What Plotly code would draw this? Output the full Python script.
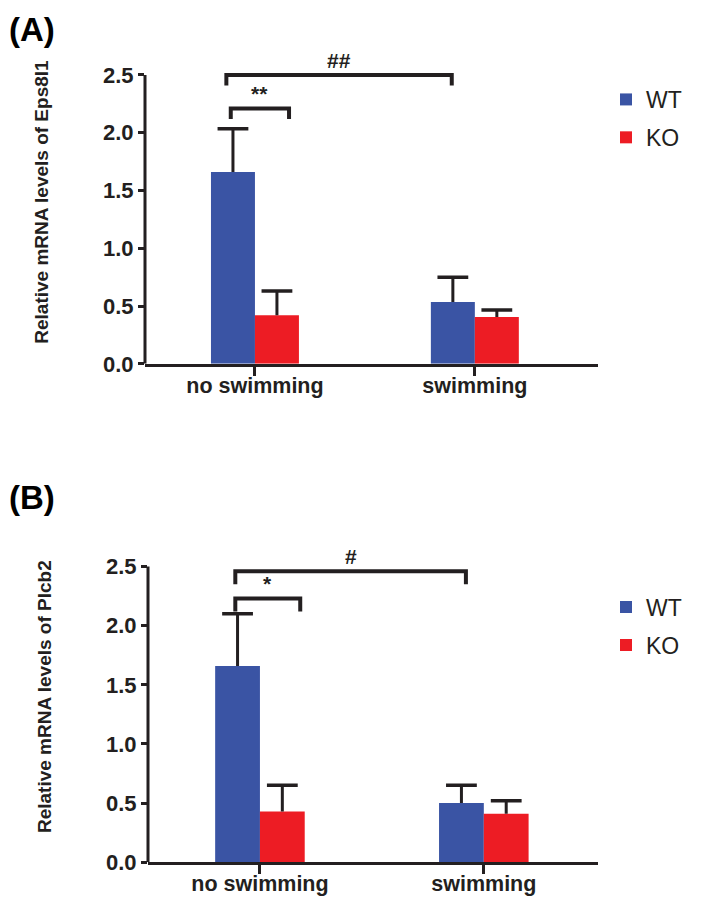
import plotly.graph_objects as go
from plotly.subplots import make_subplots

categories = ["no swimming", "swimming"]
cat_pos = [0, 1]
y_ticks = [0.0, 0.5, 1.0, 1.5, 2.0, 2.5]
y_ticktext = ["0.0", "0.5", "1.0", "1.5", "2.0", "2.5"]

# Panel A: Eps8l1
a_wt = [1.66, 0.535]
a_wt_err = [0.375, 0.215]
a_ko = [0.42, 0.405]
a_ko_err = [0.21, 0.06]

# Panel B: Plcb2
b_wt = [1.66, 0.50]
b_wt_err = [0.44, 0.15]
b_ko = [0.43, 0.41]
b_ko_err = [0.22, 0.11]

# significance brackets: (x_left, x_right, y, label)
a_brackets = [(-0.13, 0.895, 2.5, "##"), (-0.11, 0.155, 2.21, "**")]
b_brackets = [(-0.11, 0.92, 2.46, "#"), (-0.11, 0.18, 2.23, "*")]

BLUE = "#3a54a4"
RED = "#ed1c24"
INK = "#231f20"
FONT = "Liberation Sans, Arial, sans-serif"
BARGAP = 0.6
BAR_W = (1 - BARGAP) / 2  # width of each bar in category units

fig = make_subplots(rows=2, cols=1)

def add_panel(row, wt, wt_err, ko, ko_err, legend):
    series = [("WT", wt, wt_err, BLUE, -BAR_W / 2), ("KO", ko, ko_err, RED, BAR_W / 2)]
    for name, vals, err, col, off in series:
        fig.add_trace(go.Bar(
            x=cat_pos, y=vals, name=name, marker=dict(color=col, line=dict(width=0)),
            error_y=dict(type="data", array=err, arrayminus=[0] * len(err), symmetric=False,
                         thickness=3, width=0, color=INK),
            legend=legend, legendgroup=name + legend,
        ), row=row, col=1)
    # error bar caps (upper only)
    for name, vals, err, col, off in series:
        fig.add_trace(go.Scatter(
            x=[c + off for c in cat_pos], y=[v + e for v, e in zip(vals, err)],
            mode="markers", showlegend=False, hoverinfo="skip",
            marker=dict(symbol="line-ew", size=22, line=dict(color=INK, width=3.5)),
        ), row=row, col=1)

add_panel(1, a_wt, a_wt_err, a_ko, a_ko_err, "legend")
add_panel(2, b_wt, b_wt_err, b_ko, b_ko_err, "legend2")

W, H = 708, 904
def px_x(p):
    return p / W
def px_y(p):
    return 1 - p / H

axis_common = dict(showgrid=False, zeroline=False)
fig.update_xaxes(
    tickvals=cat_pos, ticktext=categories, showline=True, linewidth=3, linecolor=INK,
    ticks="outside", ticklen=9, tickwidth=3, tickcolor=INK, ticklabelstandoff=-9,
    tickfont=dict(family=FONT, size=21.5, color=INK, weight="bold"), **axis_common)
fig.update_yaxes(
    tickvals=y_ticks, ticktext=y_ticktext, showline=False,
    ticks="outside", ticklen=6, tickwidth=3, tickcolor=INK,
    tickfont=dict(family=FONT, size=22, color=INK, weight="bold"),
    title_font=dict(family=FONT, size=19, color=INK, weight="bold"),
    title_standoff=49, **axis_common)

fig.update_layout(
    xaxis=dict(domain=[px_x(137), px_x(590)], range=[-0.5, 1.56]),
    yaxis=dict(domain=[px_y(361), px_y(32.8)], range=[0, 2.8],
               title_text="Relative mRNA levels of Eps8l1"),
    xaxis2=dict(domain=[px_x(140), px_x(590)], range=[-0.5, 1.51]),
    yaxis2=dict(domain=[px_y(866.7), px_y(530.7)], range=[0, 2.8],
                title_text="Relative mRNA levels of Plcb2"),
)

# y axis lines (stop at 2.5)
for yref, xref in [("y", "x domain"), ("y2", "x2 domain")]:
    fig.add_shape(type="line", xref=xref, yref=yref, x0=0, x1=0, y0=0, y1=2.5,
                  line=dict(color=INK, width=3))

def add_brackets(brackets, xref, yref, drop):
    for x0, x1, y, label in brackets:
        fig.add_trace(go.Scatter(
            x=[x0, x0, x1, x1], y=[y - drop, y, y, y - drop], mode="lines",
            line=dict(color=INK, width=4), showlegend=False, hoverinfo="skip",
            xaxis=xref, yaxis=yref))
        fig.add_annotation(x=(x0 + x1) / 2, y=y + 0.01, xref=xref, yref=yref, text=label,
                           showarrow=False, yanchor="bottom",
                           font=dict(family=FONT, size=21, color=INK, weight="bold"))

add_brackets(a_brackets, "x", "y", 0.09)
add_brackets(b_brackets, "x2", "y2", 0.11)

for txt, ypx in [("(A)", 2), ("(B)", 477)]:
    fig.add_annotation(text=txt, xref="paper", yref="paper", x=0, y=px_y(ypx),
                       xanchor="left", yanchor="top", showarrow=False, borderpad=0,
                       font=dict(family=FONT, size=33, color="black", weight="bold"))

legend_style = dict(font=dict(family=FONT, size=23, color=INK), bgcolor="rgba(0,0,0,0)",
                    xanchor="left", yanchor="top", tracegroupgap=5, itemwidth=30)
fig.update_layout(
    width=W, height=H, margin=dict(l=0, r=0, t=0, b=0),
    paper_bgcolor="white", plot_bgcolor="white",
    barmode="group", bargap=BARGAP, bargroupgap=0,
    legend=dict(x=px_x(598), y=px_y(71), **legend_style),
    legend2=dict(x=px_x(598), y=px_y(586), **legend_style),
)

fig.write_html("out.html")
